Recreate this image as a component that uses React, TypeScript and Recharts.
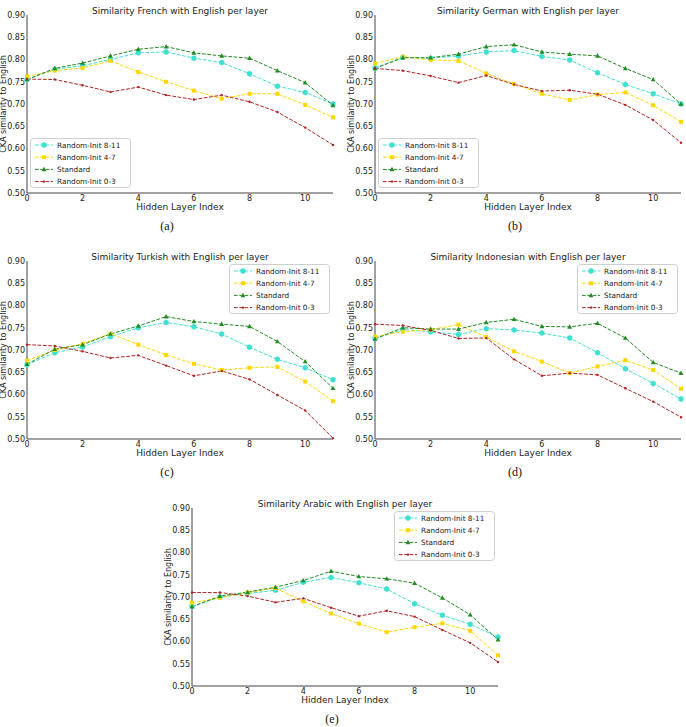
import React from "react";
import { LineChart, Line, XAxis, YAxis, Legend, Label } from "recharts";

const layers = [0, 1, 2, 3, 4, 5, 6, 7, 8, 9, 10, 11];
const xTicks = [0, 2, 4, 6, 8, 10];
const yTicks = [0.5, 0.55, 0.6, 0.65, 0.7, 0.75, 0.8, 0.85, 0.9];

const seriesKeys = ["r811", "r47", "std", "r03"];
const seriesNames = ["Random-Init 8-11", "Random-Init 4-7", "Standard", "Random-Init 0-3"];
const seriesColors = ["#40e0d0", "#ffd700", "#228b22", "#b22222"];
const seriesMarkers = ["hex", "square", "triangle", "dot"];

// French
const frR811 = [0.755, 0.778, 0.786, 0.8, 0.815, 0.817, 0.803, 0.793, 0.768, 0.74, 0.726, 0.7];
const frR47 = [0.762, 0.775, 0.781, 0.797, 0.772, 0.75, 0.73, 0.712, 0.723, 0.723, 0.698, 0.67];
const frStd = [0.755, 0.78, 0.792, 0.808, 0.823, 0.829, 0.815, 0.808, 0.803, 0.775, 0.748, 0.697];
const frR03 = [0.756, 0.755, 0.742, 0.727, 0.738, 0.72, 0.71, 0.72, 0.705, 0.682, 0.647, 0.608];

// German
const deR811 = [0.781, 0.805, 0.803, 0.808, 0.817, 0.82, 0.807, 0.799, 0.77, 0.744, 0.723, 0.7];
const deR47 = [0.791, 0.806, 0.799, 0.797, 0.769, 0.745, 0.723, 0.709, 0.721, 0.726, 0.697, 0.66];
const deStd = [0.78, 0.804, 0.804, 0.812, 0.829, 0.833, 0.817, 0.812, 0.808, 0.78, 0.755, 0.7];
const deR03 = [0.78, 0.775, 0.763, 0.748, 0.764, 0.744, 0.729, 0.731, 0.722, 0.698, 0.664, 0.613];

// Turkish
const trR811 = [0.667, 0.694, 0.707, 0.73, 0.75, 0.762, 0.752, 0.736, 0.706, 0.679, 0.66, 0.633];
const trR47 = [0.676, 0.7, 0.714, 0.737, 0.712, 0.689, 0.669, 0.655, 0.66, 0.662, 0.629, 0.585];
const trStd = [0.668, 0.702, 0.712, 0.736, 0.754, 0.775, 0.764, 0.758, 0.753, 0.719, 0.674, 0.614];
const trR03 = [0.712, 0.709, 0.697, 0.682, 0.688, 0.665, 0.642, 0.653, 0.634, 0.599, 0.564, 0.502];

// Indonesian
const idR811 = [0.726, 0.746, 0.741, 0.735, 0.748, 0.745, 0.738, 0.727, 0.694, 0.658, 0.625, 0.59];
const idR47 = [0.73, 0.741, 0.746, 0.757, 0.729, 0.697, 0.674, 0.648, 0.663, 0.677, 0.655, 0.613];
const idStd = [0.725, 0.75, 0.747, 0.747, 0.762, 0.769, 0.753, 0.752, 0.76, 0.727, 0.672, 0.648];
const idR03 = [0.758, 0.755, 0.744, 0.726, 0.727, 0.679, 0.642, 0.648, 0.644, 0.614, 0.584, 0.549];

// Arabic
const arR811 = [0.679, 0.7, 0.708, 0.715, 0.733, 0.744, 0.732, 0.718, 0.685, 0.659, 0.639, 0.61];
const arR47 = [0.687, 0.698, 0.71, 0.72, 0.69, 0.663, 0.64, 0.621, 0.632, 0.641, 0.624, 0.569];
const arStd = [0.678, 0.702, 0.711, 0.722, 0.737, 0.758, 0.746, 0.741, 0.731, 0.698, 0.66, 0.604];
const arR03 = [0.71, 0.71, 0.702, 0.688, 0.697, 0.676, 0.657, 0.669, 0.656, 0.626, 0.597, 0.554];

const FONT = "DejaVu Sans, sans-serif";
const TEXT = "#222";
const FRAME = "#444";
const PLOT_W = 306;
const PLOT_H = 178;
const LEFT = 35;
const TOP = 15;
const CHART_W = LEFT + PLOT_W + 6;
const CHART_H = TOP + PLOT_H + 30;
const DASH = "3.7 1.6";
const LEGEND_W = 101;
const LEGEND_H = 50;

interface Panel {
  title: string;
  caption: string;
  series: number[][];
  plotX: number;
  plotY: number;
  legend: "ll" | "ur";
}

const panels: Panel[] = [
  { title: "Similarity French with English per layer", caption: "(a)", series: [frR811, frR47, frStd, frR03], plotX: 27, plotY: 15, legend: "ll" },
  { title: "Similarity German with English per layer", caption: "(b)", series: [deR811, deR47, deStd, deR03], plotX: 375, plotY: 15, legend: "ll" },
  { title: "Similarity Turkish with English per layer", caption: "(c)", series: [trR811, trR47, trStd, trR03], plotX: 27, plotY: 261, legend: "ur" },
  { title: "Similarity Indonesian with English per layer", caption: "(d)", series: [idR811, idR47, idStd, idR03], plotX: 375, plotY: 261, legend: "ur" },
  { title: "Similarity Arabic with English per layer", caption: "(e)", series: [arR811, arR47, arStd, arR03], plotX: 192, plotY: 508, legend: "ur" },
];

function Marker({ kind, color, cx, cy }: { kind: string; color: string; cx: number; cy: number }) {
  if (kind === "hex") {
    const r = 3;
    const pts = [0, 1, 2, 3, 4, 5]
      .map((i) => {
        const a = (Math.PI / 3) * i + Math.PI / 6;
        return `${cx + r * Math.cos(a)},${cy + r * Math.sin(a)}`;
      })
      .join(" ");
    return <polygon points={pts} fill={color} />;
  }
  if (kind === "square") {
    return <rect x={cx - 2} y={cy - 2} width={4} height={4} fill={color} />;
  }
  if (kind === "triangle") {
    return <polygon points={`${cx},${cy - 2.6} ${cx + 2.4},${cy + 1.8} ${cx - 2.4},${cy + 1.8}`} fill={color} />;
  }
  return <circle cx={cx} cy={cy} r={1.2} fill={color} />;
}

function makeDot(kind: string, color: string) {
  return (props: any) => {
    const { cx, cy, index } = props;
    if (cx == null || cy == null) return <g key={index} />;
    return (
      <g key={index}>
        <Marker kind={kind} color={color} cx={cx} cy={cy} />
      </g>
    );
  };
}

function LegendBox() {
  return (
    <svg width={LEGEND_W} height={LEGEND_H} style={{ display: "block" }}>
      <rect x={0.5} y={0.5} width={LEGEND_W - 1} height={LEGEND_H - 1} rx={3} fill="#fff" stroke="#cfcfcf" />
      {seriesNames.map((name, i) => {
        const cy = 7 + i * 12.2;
        return (
          <g key={name}>
            <line x1={5} y1={cy} x2={23} y2={cy} stroke={seriesColors[i]} strokeWidth={1} strokeDasharray={DASH} />
            <Marker kind={seriesMarkers[i]} color={seriesColors[i]} cx={14} cy={cy} />
            <text x={27} y={cy} dominantBaseline="central" fill={TEXT} fontSize={7.3} fontFamily={FONT}>
              {name}
            </text>
          </g>
        );
      })}
    </svg>
  );
}

function SimilarityPanel({ panel }: { panel: Panel }) {
  const data = layers.map((layer, i) => {
    const row: Record<string, number> = { layer };
    seriesKeys.forEach((k, s) => {
      row[k] = panel.series[s][i];
    });
    return row;
  });
  const legendPos =
    panel.legend === "ll" ? { left: LEFT + 3, top: TOP + 123 } : { left: LEFT + 202, top: TOP + 3 };

  return (
    <div style={{ position: "absolute", left: panel.plotX - LEFT, top: panel.plotY - TOP }}>
      <LineChart width={CHART_W} height={CHART_H} data={data} margin={{ top: TOP, right: 6, bottom: 0, left: 0 }}>
        <XAxis
          dataKey="layer"
          type="number"
          domain={[0, 11]}
          ticks={xTicks}
          tickLine={false}
          tickSize={2}
          tickMargin={0}
          height={30}
          axisLine={{ stroke: FRAME }}
          tick={{ fill: TEXT, fontSize: 8, fontFamily: FONT }}
        >
          <Label
            content={() => (
              <g>
                <text x={LEFT + PLOT_W / 2} y={TOP + PLOT_H + 17} textAnchor="middle" fill={TEXT} fontSize={9} fontFamily={FONT}>
                  Hidden Layer Index
                </text>
                <text x={LEFT + PLOT_W / 2} y={TOP - 1.5} textAnchor="middle" fill={TEXT} fontSize={9} fontFamily={FONT}>
                  {panel.title}
                </text>
              </g>
            )}
          />
        </XAxis>
        <XAxis
          xAxisId="top"
          orientation="top"
          dataKey="layer"
          type="number"
          domain={[0, 11]}
          height={0}
          tick={false}
          tickLine={false}
          axisLine={{ stroke: FRAME }}
        />
        <YAxis
          type="number"
          domain={[0.5, 0.9]}
          ticks={yTicks}
          width={LEFT}
          tickLine={false}
          tickSize={2}
          tickMargin={0}
          axisLine={{ stroke: FRAME }}
          tickFormatter={(v: number) => v.toFixed(2)}
          tick={{ fill: TEXT, fontSize: 8, fontFamily: FONT }}
        >
          <Label
            content={() => (
              <text
                x={11}
                y={TOP + PLOT_H / 2}
                transform={`rotate(-90 11 ${TOP + PLOT_H / 2})`}
                textAnchor="middle"
                dominantBaseline="central"
                fill={TEXT}
                fontSize={8}
                fontFamily={FONT}
              >
                CKA similarity to English
              </text>
            )}
          />
        </YAxis>
        <YAxis
          yAxisId="right"
          orientation="right"
          type="number"
          domain={[0.5, 0.9]}
          width={0}
          tick={false}
          tickLine={false}
          axisLine={{ stroke: FRAME }}
        />
        <Legend
          layout="vertical"
          align="center"
          verticalAlign="middle"
          wrapperStyle={{ ...legendPos, width: LEGEND_W, height: LEGEND_H }}
          content={() => <LegendBox />}
        />
        {seriesKeys.map((k, s) => (
          <Line
            key={k}
            dataKey={k}
            name={seriesNames[s]}
            stroke={seriesColors[s]}
            strokeWidth={1}
            strokeDasharray={DASH}
            dot={makeDot(seriesMarkers[s], seriesColors[s])}
            activeDot={false}
            isAnimationActive={false}
          />
        ))}
      </LineChart>
      <div
        style={{
          position: "absolute",
          left: LEFT + PLOT_W / 2 - 13 - 20,
          width: 40,
          top: TOP + PLOT_H + 34 - 8,
          textAlign: "center",
          fontFamily: "Liberation Serif, Times New Roman, serif",
          fontSize: 12,
          color: "#111",
        }}
      >
        {panel.caption}
      </div>
    </div>
  );
}

export default function App() {
  return (
    <div
      style={{
        position: "absolute",
        left: 0,
        top: 0,
        width: 686,
        height: 727,
        overflow: "hidden",
        background: "#fff",
      }}
    >
      {panels.map((p) => (
        <SimilarityPanel key={p.caption} panel={p} />
      ))}
    </div>
  );
}
